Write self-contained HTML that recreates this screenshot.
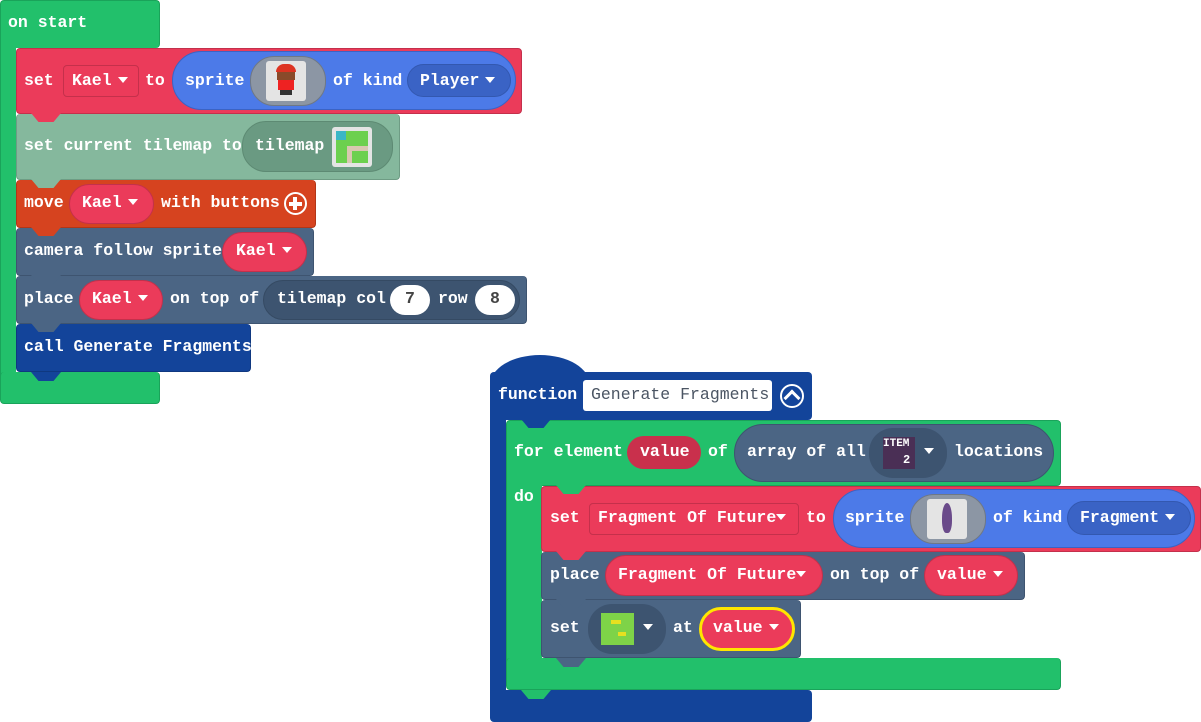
<!DOCTYPE html>
<html><head><meta charset="utf-8"><style>
body{margin:0;width:1201px;height:722px;background:#fff;position:relative;overflow:hidden;font-family:"Liberation Mono",monospace;font-weight:bold;font-size:16.5px;color:#fff}
div{position:absolute;box-sizing:border-box}
.t{white-space:pre;line-height:20px;height:20px}
.blk{border-radius:4px}
.pill{border-radius:24px}
.tab{width:30px;height:9px;clip-path:polygon(0 0,100% 0,75% 100%,25% 100%)}
.dd{display:inline-block;width:0;height:0;border-left:5px solid transparent;border-right:5px solid transparent;border-top:6px solid #fff;vertical-align:middle;margin-left:6px;position:relative;top:-1px}
</style></head><body>

<!-- on start -->
<div class="blk" style="left:0;top:0;width:160px;height:48px;background:#22c06b;border:1px solid #1aa35a;border-bottom:none"></div>
<div style="left:0;top:40px;width:16px;height:340px;background:#22c06b;border-left:1px solid #1aa35a"></div>
<div class="blk" style="left:0;top:372px;width:160px;height:32px;background:#22c06b;border:1px solid #1aa35a;border-top:none"></div>
<div class="t" style="left:8px;top:13px">on start</div>

<!-- set Kael -->
<div class="blk" style="left:16px;top:48px;width:506px;height:66px;background:#eb3b5a;border:1px solid #c4304b"></div>
<div class="t" style="left:24px;top:71px">set</div>
<div class="blk" style="left:63px;top:65px;width:76px;height:32px;border:1px solid #c4304b"></div>
<div class="t" style="left:72px;top:71px">Kael<span class="dd"></span></div>
<div class="t" style="left:145px;top:71px">to</div>
<div class="pill" style="left:172px;top:51px;width:344px;height:59px;background:#4c7ae8;border:1px solid #3b63c4;border-radius:30px"></div>
<div class="t" style="left:185px;top:71px">sprite</div>
<div class="pill" style="left:250px;top:56px;width:76px;height:50px;background:#8c96a4;border:1px solid #6f7885"></div>
<div style="left:266px;top:61px;width:40px;height:40px;background:#e4e4e4;border-radius:3px"></div>
<div style="left:276px;top:64px;width:20px;height:8px;background:#d32;border-radius:8px 8px 0 0"></div>
<div style="left:277px;top:72px;width:18px;height:8px;background:#8a4a2a"></div>
<div style="left:278px;top:80px;width:16px;height:10px;background:#e22"></div>
<div style="left:280px;top:90px;width:12px;height:5px;background:#333"></div>
<div class="t" style="left:333px;top:71px">of kind</div>
<div class="pill" style="left:407px;top:64px;width:104px;height:33px;background:#3a63c5;border:1px solid #3358b0"></div>
<div class="t" style="left:420px;top:71px">Player<span class="dd"></span></div>
<div class="tab" style="left:31px;top:114px;background:#eb3b5a"></div>

<!-- set current tilemap -->
<div class="blk" style="left:16px;top:114px;width:384px;height:66px;background:#85b89d;border:1px solid #6e9c84;border-top:none"></div>
<div class="tab" style="left:31px;top:113px;background:#eb3b5a"></div>
<div class="t" style="left:24px;top:136px">set current tilemap to</div>
<div class="pill" style="left:242px;top:121px;width:151px;height:51px;background:#6a9a82;border:1px solid #5d8a73"></div>
<div class="t" style="left:255px;top:136px">tilemap</div>
<div style="left:332px;top:127px;width:40px;height:40px;background:#e4e4e4;border-radius:3px"></div>
<div style="left:336px;top:131px;width:32px;height:32px;background:#6cd04e"></div>
<div style="left:336px;top:131px;width:10px;height:9px;background:#3ab6c6"></div>
<div style="left:347px;top:146px;width:21px;height:5px;background:#d8c8b0"></div>
<div style="left:347px;top:146px;width:5px;height:17px;background:#d8c8b0"></div>
<div class="tab" style="left:31px;top:180px;background:#85b89d"></div>

<!-- move -->
<div class="blk" style="left:16px;top:180px;width:300px;height:48px;background:#d6431f;border:1px solid #b23617;border-top:none"></div>
<div class="tab" style="left:31px;top:179px;background:#85b89d"></div>
<div class="t" style="left:24px;top:193px">move</div>
<div class="pill" style="left:69px;top:184px;width:85px;height:40px;background:#eb3b5a;border:1px solid #c4304b"></div>
<div class="t" style="left:82px;top:193px">Kael<span class="dd"></span></div>
<div class="t" style="left:161px;top:193px">with buttons</div>
<div style="left:284px;top:192px;width:23px;height:23px;border:2.5px solid #fff;border-radius:50%"></div>
<div style="left:289px;top:202px;width:13px;height:4px;background:#fff"></div>
<div style="left:293px;top:197px;width:4px;height:13px;background:#fff"></div>
<div class="tab" style="left:31px;top:228px;background:#d6431f"></div>

<!-- camera -->
<div class="blk" style="left:16px;top:228px;width:298px;height:48px;background:#4b6584;border:1px solid #3e5470;border-top:none"></div>
<div class="tab" style="left:31px;top:227px;background:#d6431f"></div>
<div class="t" style="left:24px;top:241px">camera follow sprite</div>
<div class="pill" style="left:222px;top:232px;width:85px;height:40px;background:#eb3b5a;border:1px solid #c4304b"></div>
<div class="t" style="left:236px;top:241px">Kael<span class="dd"></span></div>
<div class="tab" style="left:31px;top:276px;background:#4b6584"></div>

<!-- place -->
<div class="blk" style="left:16px;top:276px;width:511px;height:48px;background:#4b6584;border:1px solid #3e5470;border-top:none"></div>
<div class="tab" style="left:31px;top:275px;background:#4b6584"></div>
<div class="t" style="left:24px;top:289px">place</div>
<div class="pill" style="left:79px;top:280px;width:84px;height:40px;background:#eb3b5a;border:1px solid #c4304b"></div>
<div class="t" style="left:92px;top:289px">Kael<span class="dd"></span></div>
<div class="t" style="left:170px;top:289px">on top of</div>
<div class="pill" style="left:263px;top:280px;width:257px;height:40px;background:#3d5470;border:1px solid #354a63"></div>
<div class="t" style="left:277px;top:289px">tilemap col</div>
<div class="pill" style="left:390px;top:285px;width:40px;height:30px;background:#fff"></div>
<div class="t" style="left:405px;top:289px;color:#444">7</div>
<div class="t" style="left:438px;top:289px">row</div>
<div class="pill" style="left:475px;top:285px;width:40px;height:30px;background:#fff"></div>
<div class="t" style="left:490px;top:289px;color:#444">8</div>
<div class="tab" style="left:31px;top:324px;background:#4b6584"></div>

<!-- call -->
<div class="blk" style="left:16px;top:324px;width:235px;height:48px;background:#13449a;border:1px solid #0f3880;border-top:none"></div>
<div class="tab" style="left:31px;top:323px;background:#4b6584"></div>
<div class="t" style="left:24px;top:337px">call Generate Fragments</div>
<div class="tab" style="left:31px;top:372px;background:#13449a"></div>

<!-- function -->
<div style="left:490px;top:355px;width:100px;height:30px;background:#13449a;border-radius:50px 50px 0 0 / 30px 30px 0 0"></div>
<div class="blk" style="left:490px;top:372px;width:322px;height:48px;background:#13449a"></div>
<div style="left:490px;top:415px;width:16px;height:280px;background:#13449a"></div>
<div class="blk" style="left:490px;top:690px;width:322px;height:32px;background:#13449a"></div>
<div class="t" style="left:498px;top:385px">function</div>
<div style="left:583px;top:380px;width:189px;height:31px;background:#fff;border-radius:3px"></div>
<div class="t" style="left:591px;top:385px;color:#4b5563;font-weight:normal">Generate Fragments</div>
<div style="left:780px;top:384px;width:24px;height:24px;border:2.5px solid #fff;border-radius:50%"></div>
<div style="left:786px;top:392px;width:12px;height:12px;border-left:3px solid #fff;border-top:3px solid #fff;transform:rotate(45deg)"></div>

<!-- for -->
<div class="blk" style="left:506px;top:420px;width:555px;height:66px;background:#22c06b;border:1px solid #1aa35a"></div>
<div class="tab" style="left:521px;top:419px;background:#13449a"></div>
<div style="left:506px;top:480px;width:36px;height:185px;background:#22c06b;border-left:1px solid #1aa35a"></div>
<div class="blk" style="left:506px;top:658px;width:555px;height:32px;background:#22c06b;border:1px solid #1aa35a;border-top:none"></div>
<div class="tab" style="left:521px;top:690px;background:#22c06b"></div>
<div class="t" style="left:514px;top:442px">for element</div>
<div class="pill" style="left:627px;top:436px;width:74px;height:33px;background:#c9304c"></div>
<div class="t" style="left:640px;top:442px">value</div>
<div class="t" style="left:708px;top:442px">of</div>
<div class="pill" style="left:734px;top:424px;width:320px;height:58px;background:#4b6584;border:1px solid #3e5470;border-radius:30px"></div>
<div class="t" style="left:747px;top:442px">array of all</div>
<div class="pill" style="left:869px;top:428px;width:78px;height:50px;background:#3d5470"></div>
<div style="left:883px;top:437px;width:32px;height:32px;background:#4a2f55"></div>
<div class="t" style="left:883px;top:437px;font-size:11px;line-height:14px">ITEM</div>
<div class="t" style="left:903px;top:453px;font-size:12px;line-height:14px">2</div>
<div class="t" style="left:918px;top:442px"><span class="dd"></span></div>
<div class="t" style="left:954px;top:442px">locations</div>
<div class="t" style="left:514px;top:487px">do</div>

<!-- set fragment -->
<div class="blk" style="left:541px;top:486px;width:660px;height:66px;background:#eb3b5a;border:1px solid #c4304b"></div>
<div class="tab" style="left:556px;top:485px;background:#22c06b"></div>
<div class="t" style="left:550px;top:508px">set</div>
<div class="blk" style="left:589px;top:503px;width:210px;height:32px;border:1px solid #c4304b"></div>
<div class="t" style="left:598px;top:508px">Fragment Of Future<span class="dd" style="margin-left:0"></span></div>
<div class="t" style="left:806px;top:508px">to</div>
<div class="pill" style="left:833px;top:489px;width:362px;height:59px;background:#4c7ae8;border:1px solid #3b63c4;border-radius:30px"></div>
<div class="t" style="left:845px;top:508px">sprite</div>
<div class="pill" style="left:910px;top:494px;width:76px;height:50px;background:#8c96a4;border:1px solid #6f7885"></div>
<div style="left:927px;top:499px;width:40px;height:40px;background:#e4e4e4;border-radius:3px"></div>
<div style="left:942px;top:503px;width:10px;height:30px;background:#6a4a8a;border-radius:50% 50% 40% 40%"></div>
<div class="t" style="left:993px;top:508px">of kind</div>
<div class="pill" style="left:1067px;top:501px;width:124px;height:34px;background:#3a63c5;border:1px solid #3358b0"></div>
<div class="t" style="left:1080px;top:508px">Fragment<span class="dd"></span></div>
<div class="tab" style="left:556px;top:552px;background:#eb3b5a"></div>

<!-- place fragment -->
<div class="blk" style="left:541px;top:552px;width:484px;height:48px;background:#4b6584;border:1px solid #3e5470;border-top:none"></div>
<div class="tab" style="left:556px;top:551px;background:#eb3b5a"></div>
<div class="t" style="left:550px;top:565px">place</div>
<div class="pill" style="left:605px;top:555px;width:218px;height:41px;background:#eb3b5a;border:1px solid #c4304b"></div>
<div class="t" style="left:618px;top:565px">Fragment Of Future<span class="dd" style="margin-left:0"></span></div>
<div class="t" style="left:830px;top:565px">on top of</div>
<div class="pill" style="left:924px;top:555px;width:94px;height:41px;background:#eb3b5a;border:1px solid #c4304b"></div>
<div class="t" style="left:937px;top:565px">value<span class="dd"></span></div>
<div class="tab" style="left:556px;top:600px;background:#4b6584"></div>

<!-- set tile -->
<div class="blk" style="left:541px;top:600px;width:260px;height:58px;background:#4b6584;border:1px solid #3e5470;border-top:none"></div>
<div class="tab" style="left:556px;top:599px;background:#4b6584"></div>
<div class="tab" style="left:556px;top:658px;background:#4b6584"></div>
<div class="t" style="left:550px;top:618px">set</div>
<div class="pill" style="left:588px;top:604px;width:78px;height:50px;background:#3d5470"></div>
<div style="left:601px;top:613px;width:33px;height:32px;background:#7ed348"></div>
<div style="left:611px;top:620px;width:10px;height:4px;background:#e6e020"></div>
<div style="left:618px;top:632px;width:8px;height:4px;background:#e6e020"></div>
<div class="t" style="left:637px;top:618px"><span class="dd"></span></div>
<div class="t" style="left:673px;top:618px">at</div>
<div class="pill" style="left:699px;top:607px;width:96px;height:44px;background:#eb3b5a;border:3px solid #ffe600"></div>
<div class="t" style="left:713px;top:618px">value<span class="dd"></span></div>
</body></html>
